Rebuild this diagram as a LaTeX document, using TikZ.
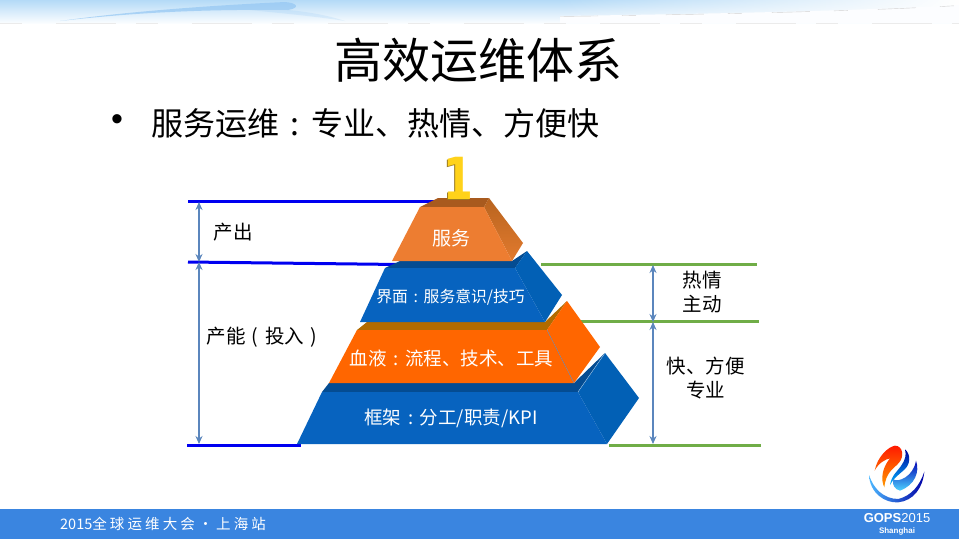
\documentclass[tikz,border=0pt]{standalone}
\usepackage{fontspec}
\setmainfont{Noto Sans CJK SC}
\newfontfamily\latinfont{Liberation Sans}
\newfontfamily\onefont{DejaVu Sans}
\usetikzlibrary{arrows.meta,fadings}
\definecolor{barblue}{HTML}{3A85E0}
\definecolor{bannerblue}{HTML}{B4DAF7}
\definecolor{swoosh}{HTML}{8FC4F2}
\definecolor{frontblue}{HTML}{0763BF}
\definecolor{sideblue}{HTML}{0260B5}
\definecolor{topblue}{HTML}{044C92}
\definecolor{frontorange}{HTML}{FF6600}
\definecolor{toporange}{HTML}{B26B00}
\definecolor{frontpeach}{HTML}{ED7D31}
\definecolor{sidepeach}{HTML}{E27A2E}
\definecolor{sidepeachdark}{HTML}{B8641F}
\definecolor{toppeach}{HTML}{A85A1E}
\definecolor{linegreen}{HTML}{70AD47}
\definecolor{lineblue}{HTML}{0000F0}
\definecolor{arrowblue}{HTML}{5B86BD}
\definecolor{gold}{HTML}{FFD21A}
\definecolor{golddark}{HTML}{9A7A20}
\newcommand{\cc}{\makebox[1em][c]{:}}
\newcommand{\lp}{\makebox[1em][c]{(}}
\newcommand{\rp}{\makebox[1em][c]{)}}
\newcommand{\fs}{\hspace{3.1pt}}
\tikzset{
  face/.style={line join=round},
  tierlabel/.style={text=white,inner sep=0pt,anchor=center},
  sidelabel/.style={text=black,inner sep=0pt,align=center,font=\fontsize{19.5}{24.5}\selectfont},
  blueline/.style={draw=lineblue,line width=3pt},
  greenline/.style={draw=linegreen,line width=3pt},
  measure/.style={draw=arrowblue,line width=1.1pt,{Stealth[length=8pt,width=7pt]}-{Stealth[length=8pt,width=7pt]}},
  barlabel/.style={text=white,inner sep=0pt}
}
\begin{document}
\begin{tikzpicture}[x=1pt,y=-1pt]
\useasboundingbox (0,0) rectangle (959,539);
\fill[white] (0,0) rectangle (959,539);

% top banner
\shade[top color=bannerblue,bottom color=white!94!bannerblue] (0,0) rectangle (959,23);
\fill[swoosh,opacity=0.65] (60,21) .. controls (130,11) and (220,5) .. (285,2) .. controls (298,3) and (300,8) .. (288,10) .. controls (200,9) and (130,13) .. (60,21) -- cycle;
\fill[swoosh,opacity=0.2] (288,10) .. controls (310,12) and (330,16) .. (345,21) .. controls (320,17) and (290,14) .. (250,10) -- cycle;
\fill[white,path fading=west] (560,0) rectangle (959,23);
\fill[white!96!bannerblue] (560,23) -- (560,16) .. controls (700,14) and (860,11) .. (959,5) -- (959,23) -- cycle;
\draw[black!18,line width=0.4pt,dash pattern=on 38pt off 24pt on 14pt off 30pt] (560,16.5) .. controls (700,14.5) and (860,11.5) .. (959,5.5);
\draw[black!8,line width=0.4pt,dash pattern=on 22pt off 34pt on 60pt off 20pt] (0,22.8) -- (959,22.8);

% bottom bar
\fill[barblue] (0,509) rectangle (959,539);
\node[barlabel,anchor=west] (footer) at (60,523.5) {\fontsize{14.5}{16}\selectfont 2015全\fs 球\fs 运\fs 维\fs 大\fs 会\hspace{3.4pt}·\hspace{3.4pt}上\fs 海\fs 站};
\node[barlabel] (gops) at (897,518.5) {\latinfont\fontsize{13}{14}\selectfont \textbf{GOPS}\fontsize{13}{14}\selectfont 2015};
\node[barlabel] (shanghai) at (897,531) {\latinfont\bfseries\fontsize{8}{9}\selectfont Shanghai};

% logo
\begin{scope}[shift={(840,430)},x=0.3333pt,y=-0.3333pt]
\shade[left color=cyan!60!blue!70,right color=blue!65!black] (87,135) .. controls (90,190) and (135,220) .. (175,217) .. controls (220,212) and (248,175) .. (253,125) .. controls (240,165) and (215,197) .. (175,207) .. controls (130,207) and (100,175) .. (87,135) -- cycle;
\shade[top color=red!80!orange,bottom color=orange!80!yellow] (104,122) .. controls (112,80) and (145,50) .. (165,47) .. controls (190,48) and (192,80) .. (178,97) .. controls (160,118) and (138,125) .. (133,172) .. controls (122,150) and (125,115) .. (150,85) .. controls (135,88) and (115,100) .. (104,122) -- cycle;
\shade[top color=blue!60!black,bottom color=cyan!70!blue] (195,58) .. controls (215,75) and (210,105) .. (192,120) .. controls (175,135) and (160,145) .. (150,165) .. controls (155,135) and (172,125) .. (185,105) .. controls (195,90) and (200,75) .. (195,58) -- cycle;
\shade[top color=blue!70!black,bottom color=cyan!75!blue!70] (228,92) .. controls (240,125) and (225,165) .. (180,182) .. controls (165,178) and (155,165) .. (160,148) .. controls (175,158) and (220,140) .. (228,92) -- cycle;
\end{scope}

% titles
\node[inner sep=0pt,text=black] (title) at (478,60) {\fontsize{48}{50}\selectfont 高效运维体系};
\node[inner sep=0pt,anchor=west,text=black] (bullet) at (111,123) {\latinfont\fontsize{34}{36}\selectfont •};
\node[inner sep=0pt,anchor=west,text=black] (subtitle) at (151,123) {\fontsize{32}{36}\selectfont 服务运维\cc 专业、热情、方便快};

% anchors of the lines
\coordinate (b1a) at (188,201.5); \coordinate (b1b) at (438,201.5);
\coordinate (b2a) at (188,262);   \coordinate (b2b) at (400,264.5);
\coordinate (b3a) at (187,445);   \coordinate (b3b) at (301,445);
\coordinate (g1a) at (541,264);   \coordinate (g1b) at (757,264);
\coordinate (g2a) at (581,321);   \coordinate (g2b) at (759,321);
\coordinate (g3a) at (609,445);   \coordinate (g3b) at (761,445);
\coordinate (m1) at (199,202); \coordinate (m2) at (199,262); \coordinate (m3) at (199,444);
\coordinate (n1) at (653,265); \coordinate (n2) at (653,322); \coordinate (n3) at (653,444);

% guide lines behind the pyramid
\draw[blueline] (b1a) -- (b1b);
\draw[blueline] (b2a) -- (b2b);
\draw[blueline] (b3a) -- (b3b);
\draw[greenline] (g1a) -- (g1b);
\draw[greenline] (g2a) -- (g2b);
\draw[greenline] (g3a) -- (g3b);
\draw[measure] (m1) -- (m2);
\draw[measure] (m2) -- (m3);
\draw[measure] (n1) -- (n2);
\draw[measure] (n2) -- (n3);

% bottom tier
\fill[topblue,face] (322,392) -- (329,383) -- (574,383) -- (605,353) -- (578,392) -- cycle;
\fill[sideblue,face] (605,353) -- (639,398) -- (607,444) -- (578,392) -- cycle;
\fill[frontblue,face] (322,392) -- (578,392) -- (607,444) -- (297,444) -- cycle;
\draw[white!60!sideblue,line width=0.4pt] (578,392) -- (605,353);
% third tier
\fill[toporange,face] (357,330) -- (367,322) -- (545,322) -- (567,301) -- (547,330) -- cycle;
\fill[frontorange,face] (567,301) -- (600,347) -- (574,383) -- (547,330) -- cycle;
\fill[frontorange,face] (357,330) -- (547,330) -- (574,383) -- (329,383) -- cycle;
\draw[arrowblue,line width=0.4pt] (547,330) -- (574,383);
% second tier
\fill[topblue,face] (385,268) -- (400,261) -- (512,261) -- (527,251) -- (515,268) -- cycle;
\fill[sideblue,face] (527,251) -- (562,295) -- (545,322) -- (515,268) -- cycle;
\fill[frontblue,face] (385,268) -- (515,268) -- (545,322) -- (360,322) -- cycle;
% top tier
\fill[toppeach,face] (420,207) -- (438,198) -- (489,198) -- (484,207) -- cycle;
\shade[top color=sidepeachdark,bottom color=sidepeach,face] (489,198) -- (523,243) -- (512,261) -- (484,207) -- cycle;
\fill[frontpeach,face] (420,207) -- (484,207) -- (512,261) -- (392,261) -- cycle;

% the digit on top
\node[inner sep=0pt,text=golddark,xscale=0.74] (oneshadow) at (457,179) {\onefont\bfseries\fontsize{58}{58}\selectfont 1};
\node[inner sep=0pt,text=gold,xscale=0.74] (one) at (458.5,178.5) {\onefont\bfseries\fontsize{58}{58}\selectfont 1};

% tier labels
\node[tierlabel] (t1) at (451,238.5) {\fontsize{19}{22}\selectfont 服务};
\node[tierlabel] (t2) at (450.5,297.5) {\fontsize{15.8}{20}\selectfont 界面\cc 服务意识/技巧};
\node[tierlabel] (t3) at (451.5,358) {\fontsize{18.5}{22}\selectfont 血液\cc 流程、技术、工具};
\node[tierlabel] (t4) at (451,418.5) {\fontsize{18.5}{22}\selectfont 框架\cc 分工/职责/KPI};

% side labels
\node[sidelabel] (l1) at (233,232) {产出};
\node[sidelabel] (l2) at (265,337.5) {产能\lp 投入\rp};
\node[sidelabel] (r1) at (702,292) {热情\\主动};
\node[sidelabel] (r2) at (705.5,378) {快、方便\\专业};
\end{tikzpicture}
\end{document}
